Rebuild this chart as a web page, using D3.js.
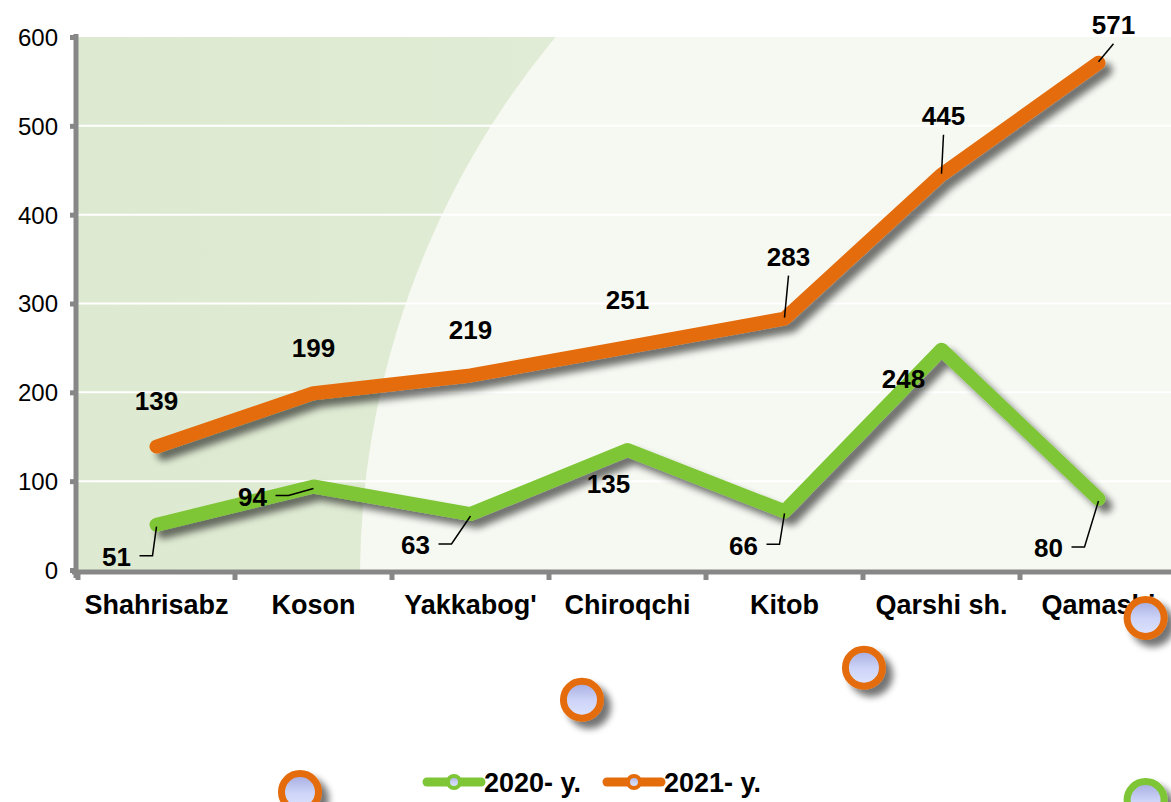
<!DOCTYPE html>
<html>
<head>
<meta charset="utf-8">
<script src="https://cdn.jsdelivr.net/npm/d3@7"></script>
<style>
  body { margin: 0; background: #fff; }
  svg { display: block; font-family: "Liberation Sans", Arial, sans-serif; }
</style>
</head>
<body>
<div class="chart"></div>
<script>
const categories = ['Shahrisabz', 'Koson', "Yakkabog'", 'Chiroqchi', 'Kitob', 'Qarshi sh.', 'Qamashi'];
const values2020 = [51, 94, 63, 135, 66, 248, 80];
const values2021 = [139, 199, 219, 251, 283, 445, 571];
const seriesNames = ['2020- y.', '2021- y.'];
const yTicks = [0, 100, 200, 300, 400, 500, 600];

// where Excel put each data label (dx, dy from the point) and whether it has a leader line
const labels2020 = [
  { dx: -40, dy: 32, leader: true },
  { dx: -61, dy: 10, leader: true },
  { dx: -55, dy: 31, leader: true },
  { dx: -19, dy: 34, leader: false },
  { dx: -41, dy: 34, leader: true },
  { dx: -38, dy: 29, leader: false },
  { dx: -50, dy: 49, leader: true }
];
const labels2021 = [
  { dx: 0, dy: -46, leader: false },
  { dx: 0, dy: -46, leader: false },
  { dx: 0, dy: -46, leader: false },
  { dx: 0, dy: -47, leader: false },
  { dx: 4, dy: -62, leader: true },
  { dx: 2, dy: -59, leader: true },
  { dx: 15, dy: -38, leader: true }
];

// leftover markers Excel drew outside the plot (band units, value units)
const strayMarkers = [
  { pos: 1.414, value: -250, series: 1 },
  { pos: 3.21, value: -146, series: 1 },
  { pos: 5.006, value: -110, series: 1 },
  { pos: 6.80, value: -54, series: 1 },
  { pos: 6.80, value: -259, series: 0 }
];

const colors = ['#7ec636', '#e46c0a'];
const width = 1171, height = 802;
const plotLeft = 78, plotTop = 37, plotBottom = 570, band = 157;

const svg = d3.select('.chart').append('svg')
  .attr('width', width)
  .attr('height', height);

const defs = svg.append('defs');
const shadow = defs.append('filter').attr('id', 'shadow')
  .attr('x', '-50%').attr('y', '-50%').attr('width', '200%').attr('height', '200%');
shadow.append('feGaussianBlur').attr('in', 'SourceAlpha').attr('stdDeviation', 3.5).attr('result', 'b');
shadow.append('feOffset').attr('in', 'b').attr('dx', 7).attr('dy', 7).attr('result', 'o');
shadow.append('feComponentTransfer').attr('in', 'o').attr('result', 'a')
  .append('feFuncA').attr('type', 'linear').attr('slope', 0.55);
const merge = shadow.append('feMerge');
merge.append('feMergeNode').attr('in', 'a');
merge.append('feMergeNode').attr('in', 'SourceGraphic');

const markerFill = defs.append('linearGradient').attr('id', 'markerFill')
  .attr('x1', 0).attr('y1', 0).attr('x2', 0).attr('y2', 1);
markerFill.append('stop').attr('offset', '0%').attr('stop-color', '#a3a9dd');
markerFill.append('stop').attr('offset', '50%').attr('stop-color', '#ccd3f7');
markerFill.append('stop').attr('offset', '100%').attr('stop-color', '#dfe5ff');

const bgGrad = defs.append('linearGradient').attr('id', 'bgGrad')
  .attr('x1', 0).attr('y1', 0).attr('x2', 1).attr('y2', 0);
bgGrad.append('stop').attr('offset', '0%').attr('stop-color', '#dde9d0');
bgGrad.append('stop').attr('offset', '100%').attr('stop-color', '#e6efdd');

defs.append('clipPath').attr('id', 'plotClip')
  .append('rect').attr('x', plotLeft).attr('y', plotTop)
  .attr('width', width - plotLeft).attr('height', plotBottom - plotTop);

const x = d3.scaleBand()
  .domain(categories)
  .range([plotLeft, plotLeft + band * categories.length]);
const xPos = d3.scaleLinear()
  .domain([0, categories.length])
  .range([plotLeft, plotLeft + band * categories.length]);
const y = d3.scaleLinear()
  .domain([0, 600])
  .range([plotBottom, plotTop]);
const cx = d => x(d) + x.bandwidth() / 2;

// plot background: green wash with a big pale circle coming in from the right
const bg = svg.append('g').attr('clip-path', 'url(#plotClip)');
bg.append('rect')
  .attr('x', plotLeft).attr('y', plotTop)
  .attr('width', width - plotLeft).attr('height', plotBottom - plotTop)
  .style('fill', 'url(#bgGrad)');
bg.append('circle')
  .attr('cx', 1206).attr('cy', 578).attr('r', 846)
  .style('fill', '#f6f9f2');

// gridlines
svg.append('g')
  .selectAll('line')
  .data(yTicks.filter(t => t > 0 && t < 600))
  .enter()
  .append('line')
  .attr('x1', plotLeft).attr('x2', width)
  .attr('y1', d => y(d)).attr('y2', d => y(d))
  .style('stroke', '#fff')
  .style('stroke-width', 2);

// axes
const yAxis = svg.append('g')
  .attr('transform', `translate(${plotLeft - 2},0)`)
  .call(d3.axisLeft(y).tickValues(yTicks).tickSize(6).tickPadding(12));
yAxis.select('.domain').remove();
yAxis.append('line')
  .attr('x1', 0).attr('x2', 0)
  .attr('y1', plotTop - 3).attr('y2', plotBottom + 8)
  .style('stroke', '#878787').style('stroke-width', 5);
yAxis.selectAll('.tick line').style('stroke', '#878787').style('stroke-width', 5);
yAxis.selectAll('.tick text')
  .style('font-size', '24px')
  .style('font-family', '"Liberation Sans", Arial, sans-serif')
  .style('fill', '#000')
  .attr('dy', '0.35em');

const xAxis = svg.append('g')
  .attr('transform', `translate(0,${plotBottom + 2})`);
xAxis.append('line')
  .attr('x1', plotLeft - 6).attr('x2', width)
  .attr('y1', 0).attr('y2', 0)
  .style('stroke', '#878787').style('stroke-width', 5);
xAxis.selectAll('line.tick')
  .data(d3.range(categories.length + 1))
  .enter()
  .append('line')
  .attr('class', 'tick')
  .attr('x1', d => xPos(d)).attr('x2', d => xPos(d))
  .attr('y1', 0).attr('y2', 8)
  .style('stroke', '#878787').style('stroke-width', 5);
xAxis.selectAll('text')
  .data(categories)
  .enter()
  .append('text')
  .attr('x', d => cx(d))
  .attr('y', 42)
  .attr('text-anchor', 'middle')
  .style('font-size', '27px')
  .style('font-weight', 'bold')
  .text(d => d);

// series lines
const line = d3.line()
  .x((d, i) => cx(categories[i]))
  .y(d => y(d));

[values2020, values2021].forEach((vals, s) => {
  svg.append('path')
    .datum(vals)
    .attr('d', line)
    .style('fill', 'none')
    .style('stroke', colors[s])
    .style('stroke-width', 14)
    .style('stroke-linecap', 'round')
    .style('stroke-linejoin', 'round')
    .attr('filter', 'url(#shadow)');
});

// data labels
function drawLabels(vals, offs) {
  const g = svg.append('g');
  vals.forEach((v, i) => {
    const px = cx(categories[i]);
    const py = y(v);
    const o = offs[i];
    const lx = px + o.dx;
    const ly = py + o.dy;
    if (o.leader) {
      if (o.dy > 0) {
        // label sits below-left: short horizontal tick then up to the point
        g.append('path')
          .attr('d', `M${lx + 23},${ly - 1}H${lx + 36}L${px},${py + 2}`)
          .style('fill', 'none').style('stroke', '#000').style('stroke-width', 1.5);
      } else {
        g.append('path')
          .attr('d', `M${lx},${ly + 19}L${px},${py - 1}`)
          .style('fill', 'none').style('stroke', '#000').style('stroke-width', 1.5);
      }
    }
    g.append('text')
      .attr('x', lx)
      .attr('y', ly)
      .attr('dy', '0.36em')
      .attr('text-anchor', 'middle')
      .style('font-size', '26px')
      .style('font-weight', 'bold')
      .text(v);
  });
}
drawLabels(values2020, labels2020);
drawLabels(values2021, labels2021);

// stray markers
svg.append('g')
  .selectAll('circle')
  .data(strayMarkers)
  .enter()
  .append('circle')
  .attr('cx', d => xPos(d.pos))
  .attr('cy', d => y(d.value))
  .attr('r', 18.5)
  .style('fill', 'url(#markerFill)')
  .style('stroke', d => colors[d.series])
  .style('stroke-width', 7)
  .attr('filter', 'url(#shadow)');

// legend
const legend = svg.append('g').attr('transform', 'translate(425,782)');
const legendX = [0, 180];
seriesNames.forEach((name, s) => {
  const g = legend.append('g').attr('transform', `translate(${legendX[s]},0)`);
  g.append('line')
    .attr('x1', 2).attr('x2', 56)
    .attr('y1', 0).attr('y2', 0)
    .style('stroke', colors[s])
    .style('stroke-width', 9)
    .style('stroke-linecap', 'round');
  g.append('circle')
    .attr('cx', 29).attr('cy', 0).attr('r', 6)
    .style('fill', 'url(#markerFill)')
    .style('stroke', colors[s])
    .style('stroke-width', 4);
  g.append('text')
    .attr('x', 59).attr('y', 0).attr('dy', '0.36em')
    .style('font-size', '27px')
    .style('font-weight', 'bold')
    .text(name);
});
</script>
</body>
</html>
